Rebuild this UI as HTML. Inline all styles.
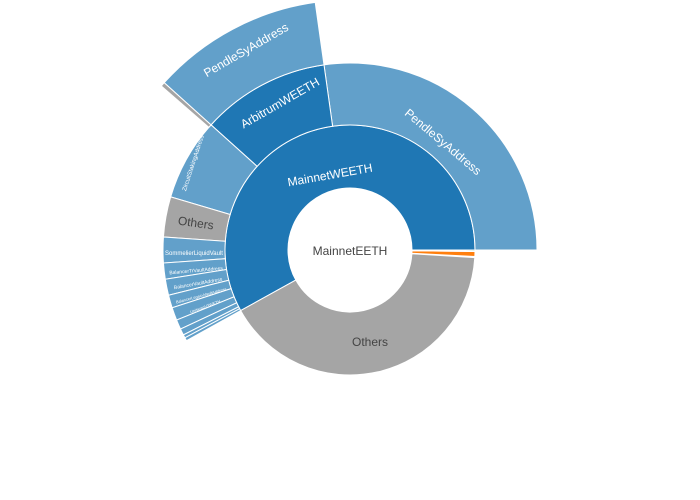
<!DOCTYPE html>
<html><head><meta charset="utf-8"><style>
html,body{margin:0;padding:0;background:#fff;width:700px;height:500px;overflow:hidden}
svg{display:block;font-family:"Liberation Sans","DejaVu Sans",sans-serif}
</style></head><body>
<svg id="s" width="700" height="500" viewBox="0 0 700 500">
<g id="g"></g>
<text x="350" y="255" font-size="12" fill="#444" text-anchor="middle">MainnetEETH</text>
<text x="330" y="179" font-size="12" fill="#fff" text-anchor="middle" transform="rotate(-10 330 175)">MainnetWEETH</text>
<text x="370" y="346" font-size="12" fill="#444" text-anchor="middle">Others</text>
<text x="443" y="146" font-size="12" fill="#fff" text-anchor="middle" transform="rotate(40 443 142)">PendleSyAddress</text>
<text x="280" y="107" font-size="12" fill="#fff" text-anchor="middle" transform="rotate(-30 280 103)">ArbitrumWEETH</text>
<text x="246" y="54" font-size="12" fill="#fff" text-anchor="middle" transform="rotate(-30 246 50)">PendleSyAddress</text>
<text x="196" y="227" font-size="12" fill="#444" text-anchor="middle" transform="rotate(8 196 222)">Others</text>
<text x="193" y="165" font-size="6" fill="#fff" text-anchor="middle" transform="rotate(-72 193 163)">ZircuitStakingAddress</text>
<text x="194" y="255" font-size="6" fill="#fff" text-anchor="middle" transform="rotate(0 194 253)">SommelierLiquidVault</text>
<text x="196" y="272" font-size="5" fill="#fff" text-anchor="middle" transform="rotate(-5 196 270)">BalancerTrVaultAddress</text>
<text x="198" y="285" font-size="5" fill="#fff" text-anchor="middle" transform="rotate(-10 198 283)">BalancerVaultAddress</text>
<text x="201" y="297" font-size="4" fill="#fff" text-anchor="middle" transform="rotate(-15 201 295)">BalancerLegacyVaultAddress</text>
<text x="205" y="308" font-size="4" fill="#fff" text-anchor="middle" transform="rotate(-20 205 306)">UniswapV3WETH</text>
</svg>
<script>
var cx=350,cy=250,g=document.getElementById('g');
function pt(r,a){a=a*Math.PI/180;return [cx+r*Math.cos(a),cy-r*Math.sin(a)];}
function arc(r0,r1,a0,a1,fill){
 var p1=pt(r1,a0),p2=pt(r1,a1),p3=pt(r0,a1),p4=pt(r0,a0);
 var lg=(a1-a0)>180?1:0;
 var d='M'+p1+' A'+r1+','+r1+' 0 '+lg+' 0 '+p2+' L'+p3+' A'+r0+','+r0+' 0 '+lg+' 1 '+p4+'Z';
 var e=document.createElementNS('http://www.w3.org/2000/svg','path');
 e.setAttribute('d',d);e.setAttribute('fill',fill);e.setAttribute('stroke','#fff');e.setAttribute('stroke-width','1');
 g.appendChild(e);}
var B='#1f77b4',L='#62a0ca',G='#a5a5a5';
arc(62,125,0,209,B);
arc(62,125,209,356.5,G);
arc(62,125,357,359.3,'#ff7f0e');
arc(62,125,359.3,359.8,'#2ca02c');
arc(125,187,0,98,L);
arc(125,187,98,138,B);
arc(125,187,138,163.5,L);
arc(125,187,163.5,176,G);
var b=[176,184,189,194,198,202,205,207,208,209];
for(var i=0;i<b.length-1;i++)arc(125,187,b[i],b[i+1],L);
arc(187,250,98,138,L);
arc(187,250,138,139,G);
</script>
</body></html>
